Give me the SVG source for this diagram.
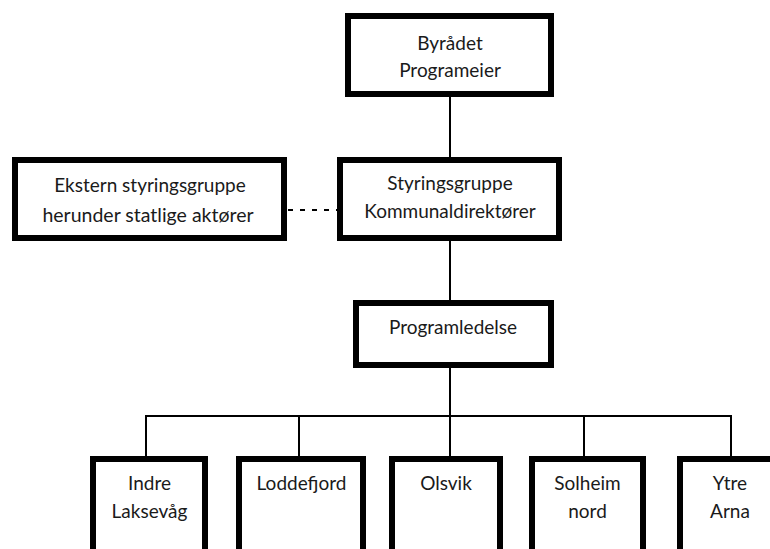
<svg xmlns="http://www.w3.org/2000/svg" width="770" height="549" viewBox="0 0 770 549">
<style>
.box{fill:#fff;stroke:#000;stroke-width:6}
.t{font-family:Lato,"Open Sans","Liberation Sans",sans-serif;font-size:19px;fill:#1a1a1a;text-anchor:middle}
.big{font-size:19.5px}
.ln{stroke:#000;stroke-width:2;fill:none}
.dash{stroke-dasharray:5 7}
</style>
<rect width="770" height="549" fill="#fff"/>
<g id="connectors">
<line class="ln" x1="450" y1="97" x2="450" y2="157"/>
<line class="ln" x1="450" y1="241" x2="450" y2="300"/>
<line class="ln" x1="450" y1="368" x2="450" y2="416"/>
<line class="ln" x1="145" y1="416" x2="732" y2="416"/>
<line class="ln" x1="146" y1="416" x2="146" y2="456"/>
<line class="ln" x1="299" y1="416" x2="299" y2="456"/>
<line class="ln" x1="450" y1="416" x2="450" y2="456"/>
<line class="ln" x1="584" y1="416" x2="584" y2="456"/>
<line class="ln" x1="731" y1="416" x2="731" y2="456"/>
<line class="ln dash" x1="288" y1="210" x2="337" y2="210"/>
</g>
<g id="byradet">
<rect class="box" x="348" y="16" width="203" height="78"/>
<text class="t" x="450" y="50">Byrådet</text>
<text class="t" x="450" y="77">Programeier</text>
</g>
<g id="ekstern">
<rect class="box" x="15" y="160" width="269" height="78"/>
<text class="t" x="150" y="192">Ekstern styringsgruppe</text>
<text class="t big" x="148" y="222">herunder statlige aktører</text>
</g>
<g id="styringsgruppe">
<rect class="box" x="340" y="160" width="219" height="78"/>
<text class="t" x="450" y="190">Styringsgruppe</text>
<text class="t" x="450" y="218">Kommunaldirektører</text>
</g>
<g id="programledelse">
<rect class="box" x="356" y="303" width="195" height="62"/>
<text class="t" x="453" y="334">Programledelse</text>
</g>
<g id="indre">
<rect class="box" x="93" y="459" width="112" height="120"/>
<text class="t" x="149.5" y="490">Indre</text>
<text class="t" x="149.5" y="518">Laksevåg</text>
</g>
<g id="loddefjord">
<rect class="box" x="239" y="459" width="124" height="120"/>
<text class="t" x="301.5" y="490">Loddefjord</text>
</g>
<g id="olsvik">
<rect class="box" x="392" y="459" width="108" height="120"/>
<text class="t" x="446" y="490">Olsvik</text>
</g>
<g id="solheim">
<rect class="box" x="532" y="459" width="111" height="120"/>
<text class="t" x="587.5" y="490">Solheim</text>
<text class="t" x="587.5" y="518">nord</text>
</g>
<g id="ytre">
<rect class="box" x="680" y="459" width="120" height="120"/>
<text class="t" x="730" y="490">Ytre</text>
<text class="t" x="730" y="518">Arna</text>
</g>
</svg>
